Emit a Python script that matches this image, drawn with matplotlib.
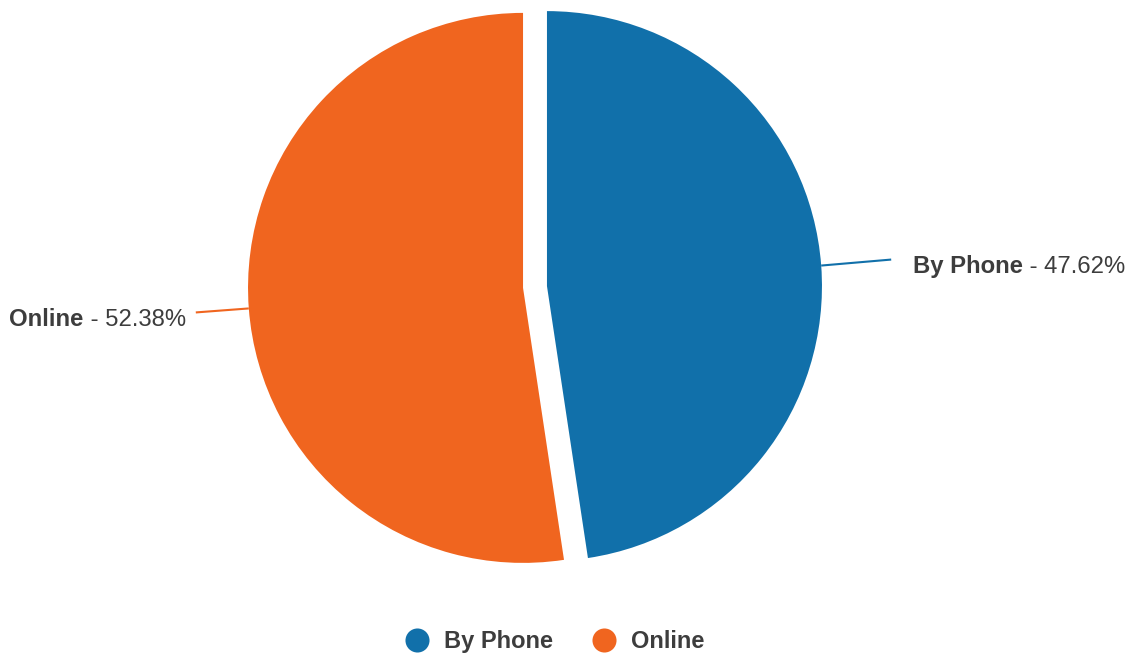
import matplotlib
matplotlib.use("Agg")
import matplotlib.pyplot as plt
import numpy as np

categories = ["By Phone", "Online"]
values = [47.62, 52.38]
colors = ["#1170aa", "#f0651f"]
text_color = "#3d3d3d"

W, H = 1136, 655
fig = plt.figure(figsize=(W / 100, H / 100), dpi=100)
ax = fig.add_axes([0, 0, 1, 1])
ax.set_xlim(0, W)
ax.set_ylim(0, H)
ax.set_aspect("equal")
ax.axis("off")

cx, cy, R = 535, H - 287, 275
expl = 12
wedges, _ = ax.pie(values, colors=colors, startangle=90, counterclock=False,
                   radius=R, center=(cx, cy), explode=[expl, expl],
                   wedgeprops=dict(linewidth=0, antialiased=True), frame=True)
ax.set_xlim(0, W)
ax.set_ylim(0, H)
ax.axis("off")

plt.rcParams['font.family'] = ['Liberation Sans', 'DejaVu Sans']
fs = 17.2
fig.canvas.draw()
renderer = fig.canvas.get_renderer()

for w, cat, val, col in zip(wedges, categories, values, colors):
    mid = np.deg2rad((w.theta1 + w.theta2) / 2)
    wx, wy = w.center
    x0 = wx + R * np.cos(mid)
    y0 = wy + R * np.sin(mid)
    side = 1 if np.cos(mid) > 0 else -1
    if side > 0:
        x1 = x0 + 70
        y1 = y0 + 6
    else:
        x1 = x0 - 53
        y1 = y0 - 4
    ax.plot([x0, x1], [y0, y1], color=col, lw=1.5, solid_capstyle="butt")
    ty = y1 - 13.5
    if side > 0:
        tx = x1 + 22
        t1 = ax.text(tx, ty, cat, fontsize=fs, fontweight="bold", color=text_color,
                     ha="left", va="baseline")
        bb = t1.get_window_extent(renderer)
        ax.text(bb.x1, ty, f" - {val:.2f}%", fontsize=fs, color=text_color,
                ha="left", va="baseline")
    else:
        tx = x1 - 10
        t2 = ax.text(tx, ty, f" - {val:.2f}%", fontsize=fs, color=text_color,
                     ha="right", va="baseline")
        bb = t2.get_window_extent(renderer)
        ax.text(bb.x0, ty, cat, fontsize=fs, fontweight="bold", color=text_color,
                ha="right", va="baseline")

# legend
ly = H - 640
lx = [417, 604]
for x, cat, col in zip(lx, categories, colors):
    ax.scatter([x], [ly], s=300, color=col, linewidths=0)
    ax.text(x + 27, H - 648, cat, fontsize=17, fontweight="bold", color=text_color,
            ha="left", va="baseline")

fig.savefig("out.png", dpi=100)
